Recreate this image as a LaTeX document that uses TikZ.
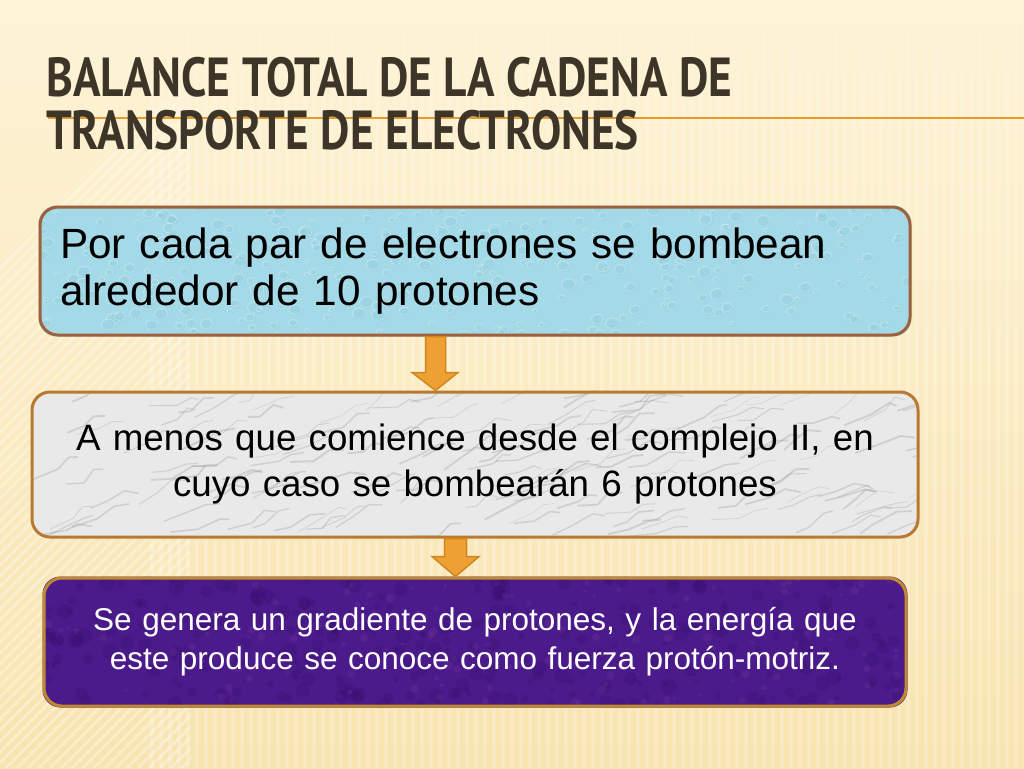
\documentclass[tikz,border=0pt]{standalone}
\usepackage{fontspec}
\setmainfont{Liberation Sans}
\newfontfamily\titlefont[FakeStretch=0.825]{PT Sans}
\usetikzlibrary{calc,fadings}
\pgfdeclarelayer{back}
\pgfdeclarelayer{mid}
\pgfsetlayers{back,mid,main}
\definecolor{bgtop}{HTML}{FEF3D6}
\definecolor{bgbot}{HTML}{F8E4B0}
\definecolor{titlecol}{HTML}{3E3529}
\definecolor{ruleorange}{HTML}{E59A2E}
\definecolor{arrfill}{HTML}{EEA033}
\definecolor{arrdraw}{HTML}{D0861E}
\definecolor{bluefill}{HTML}{A4D9E7}
\definecolor{bluedrop}{HTML}{78BFD3}
\definecolor{blueedge}{HTML}{A0603A}
\definecolor{marblefill}{HTML}{E9E9E9}
\definecolor{marblevein}{HTML}{8E8E8E}
\definecolor{marbleedge}{HTML}{B97A30}
\definecolor{purplefill}{HTML}{4C1B8B}
\definecolor{purpledark}{HTML}{2F0C66}
\definecolor{purpleedge}{HTML}{C08A2E}
\tikzset{
  boxbase/.style={rectangle, rounded corners=18, line width=3pt, inner ysep=0pt, inner xsep=20pt},
  bluebox/.style={boxbase, draw=blueedge, text width=830pt, minimum height=128pt, align=left,
    font=\fontsize{42.3}{47}\selectfont, text=black},
  marblebox/.style={boxbase, draw=marbleedge, text width=846pt, minimum height=145pt, align=center,
    font=\fontsize{36.7}{46}\selectfont, text=black},
  purplebox/.style={boxbase, draw=purpleedge, text width=822pt, minimum height=128pt, align=center,
    font=\fontsize{31.5}{39}\selectfont, text=white},
  blockarrow/.style={fill=arrfill, draw=arrdraw, line width=1.5pt, line join=miter},
}
\begin{document}
\begin{tikzpicture}[x=1pt,y=-1pt]
\useasboundingbox (0,0) rectangle (1024,768);

% ---------- background ----------
\begin{pgfonlayer}{back}
  \fill[top color=bgtop, bottom color=bgbot] (0,0) rectangle (1024,768);
  \begin{scope}
    \clip (150,0) rectangle (1024,768);
    \foreach \x in {150,159,...,1024}
      \fill[white, opacity=0.22] (\x,0) rectangle ++(4,768);
  \end{scope}
  \begin{scope}
    \clip (0,0) rectangle (190,768);
    \foreach \i in {0,...,80}
      \draw[white, opacity=0.35, line width=2.5pt] ({\i*11-500},768) -- ++(700,-700);
  \end{scope}
  \fill[bgtop, path fading=south] (0,0) rectangle (1024,150);
\end{pgfonlayer}

% ---------- title ----------
\draw[ruleorange, line width=2pt] (48,118) -- (1024,118);
\node[anchor=north west, inner sep=0pt, align=left, text=titlecol,
      font=\titlefont\bfseries\fontsize{55}{53}\selectfont] (title) at (46,57)
  {BALANCE TOTAL DE LA CADENA DE\\TRANSPORTE DE ELECTRONES};

% ---------- boxes ----------
\node[bluebox] (b1) at (475,271)
  {Por cada par de electrones se bombean\\alrededor de 10 protones};
\node[marblebox] (b2) at (475,464.5)
  {A menos que comience desde el complejo II, en\\cuyo caso se bombear\'an 6 protones};
\node[purplebox] (b3) at (475,642)
  {Se genera un gradiente de protones, y la energ\'ia que\\este produce se conoce como fuerza prot\'on-motriz.};

% ---------- box fills and textures ----------
\begin{pgfonlayer}{mid}
  \pgfmathsetseed{7}
  % water drops
  \fill[bluefill, rounded corners=18] (b1.north west) rectangle (b1.south east);
  \begin{scope}
    \clip[rounded corners=18] (b1.north west) rectangle (b1.south east);
    \foreach \i in {1,...,320}{
      \pgfmathsetmacro\rx{40+870*rnd}
      \pgfmathsetmacro\ry{207+128*rnd}
      \pgfmathsetmacro\rr{2+5*rnd}
      \fill[bluedrop, opacity=0.18] (\rx+1.2,\ry+1.2) ellipse[x radius=\rr, y radius=0.8*\rr];
      \draw[white, opacity=0.3, line width=0.7pt] (\rx,\ry) ellipse[x radius=\rr, y radius=0.8*\rr];
    }
  \end{scope}
  % marble
  \fill[marblefill, rounded corners=18] (b2.north west) rectangle (b2.south east);
  \begin{scope}
    \clip[rounded corners=18] (b2.north west) rectangle (b2.south east);
    \foreach \i in {1,...,160}{
      \pgfmathsetmacro\rx{32+886*rnd}
      \pgfmathsetmacro\ry{392+145*rnd}
      \pgfmathsetmacro\da{10+18*rnd}
      \pgfmathsetmacro\db{-12*rnd}
      \pgfmathsetmacro\dc{8+16*rnd}
      \pgfmathsetmacro\lw{0.4+1.6*rnd}
      \draw[marblevein, opacity=0.28, line width=\lw pt, line cap=round, line join=round]
        (\rx,\ry) -- ++(\da,\db) -- ++(\dc,{-6-8*rnd}) -- ++({6+10*rnd},{6*rnd-3});
    }
  \end{scope}
  % purple felt
  \fill[purplefill, rounded corners=18] (b3.north west) rectangle (b3.south east);
  \begin{scope}
    \clip[rounded corners=18] (b3.north west) rectangle (b3.south east);
    \foreach \i in {1,...,320}{
      \pgfmathsetmacro\rx{44+862*rnd}
      \pgfmathsetmacro\ry{578+128*rnd}
      \pgfmathsetmacro\rr{2+6*rnd}
      \fill[purpledark, opacity=0.22] (\rx,\ry) circle[radius=\rr];
    }
    \foreach \i in {1,...,160}{
      \pgfmathsetmacro\rx{44+862*rnd}
      \pgfmathsetmacro\ry{578+128*rnd}
      \pgfmathsetmacro\rr{1.5+3*rnd}
      \fill[violet!60!white, opacity=0.1] (\rx,\ry) circle[radius=\rr];
    }
  \end{scope}
\end{pgfonlayer}

% ---------- block arrows ----------
\path[blockarrow]
  ($(b1.south)+(-49.5,0)$) -- ($(b1.south)+(-49.5,36)$) -- ($(b1.south)+(-63,36)$)
  -- ($(b2.north)+(-39.5,0)$) -- ($(b1.south)+(-17,36)$) -- ($(b1.south)+(-29.5,36)$)
  -- ($(b1.south)+(-29.5,0)$) -- cycle;
\path[blockarrow]
  ($(b2.south)+(-30.5,0)$) -- ($(b2.south)+(-30.5,18)$) -- ($(b2.south)+(-43,18)$)
  -- ($(b3.north)+(-19.5,0)$) -- ($(b2.south)+(4,18)$) -- ($(b2.south)+(-8.5,18)$)
  -- ($(b2.south)+(-8.5,0)$) -- cycle;
\end{tikzpicture}
\end{document}
